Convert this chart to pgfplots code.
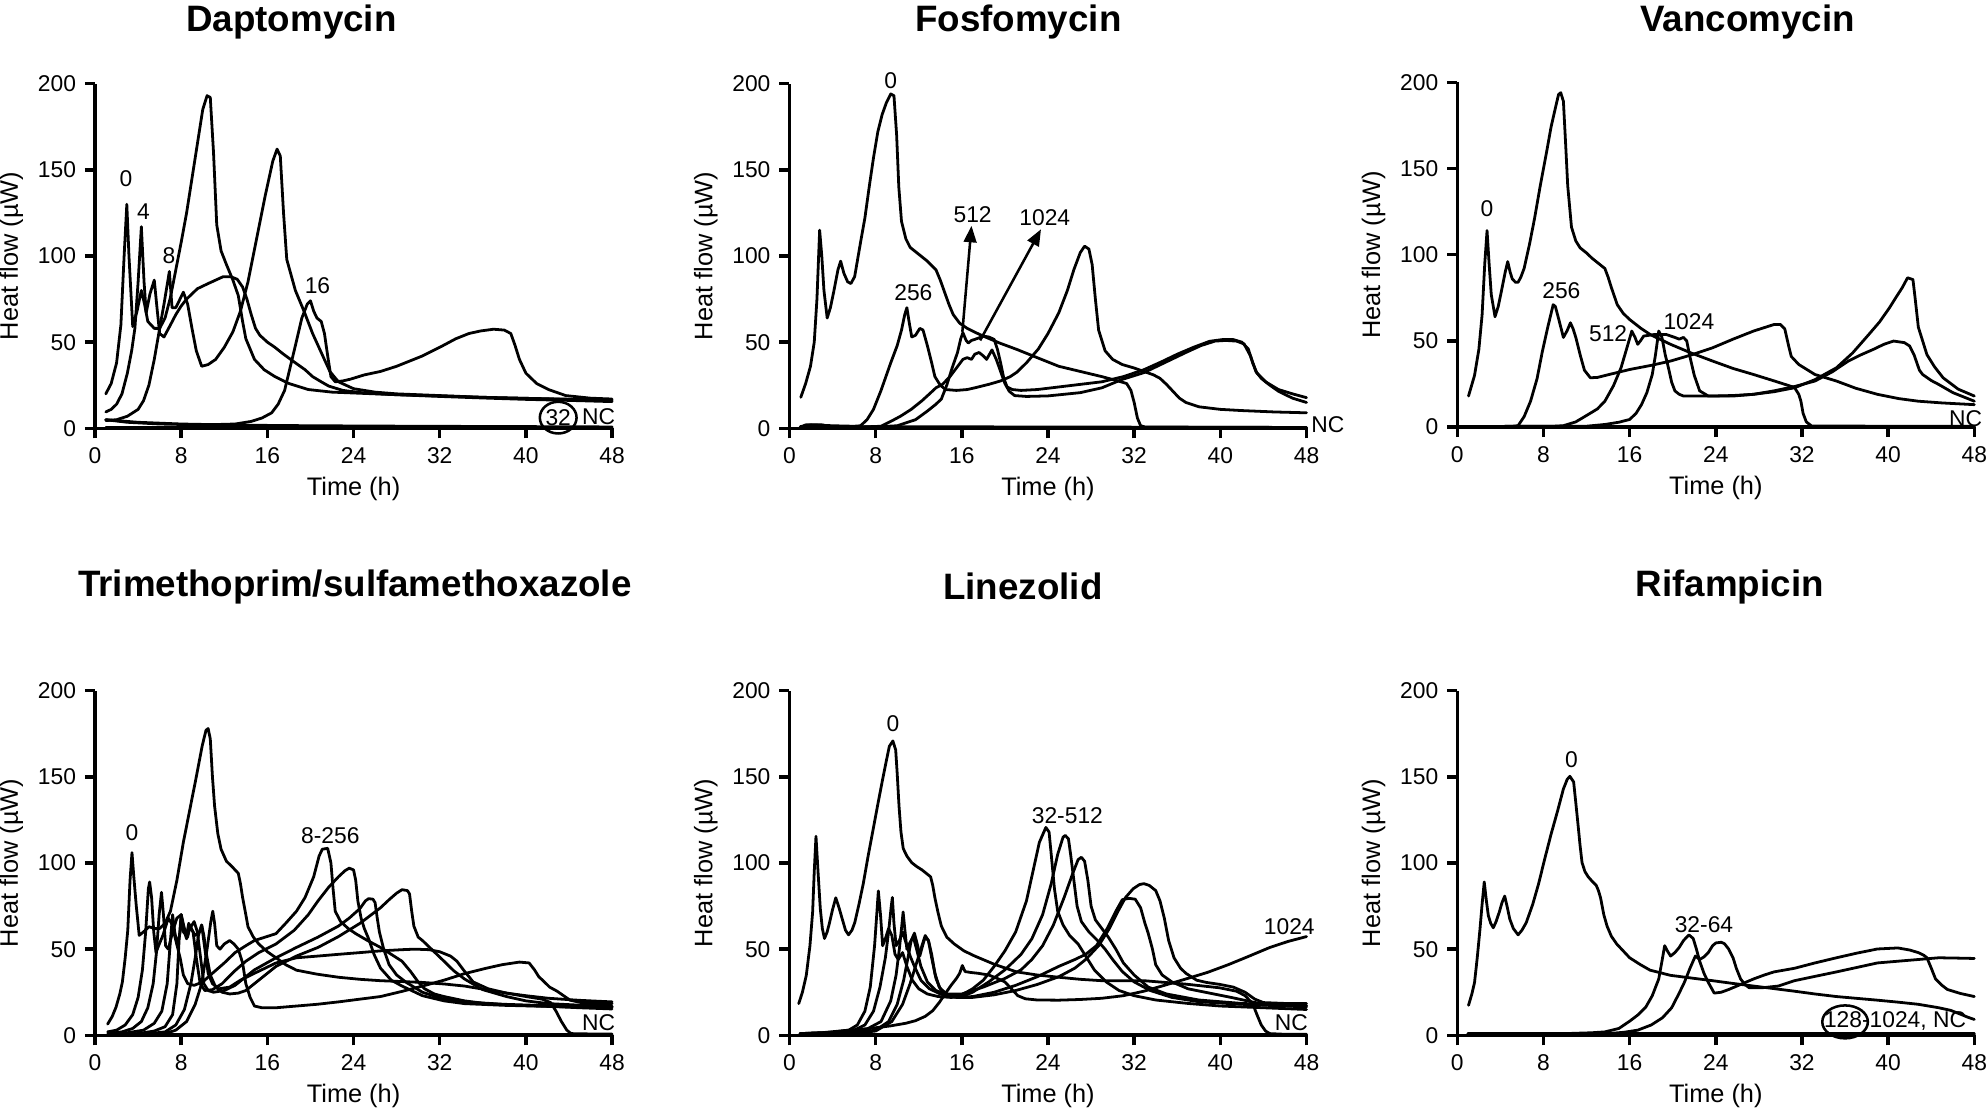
\documentclass[border=0pt]{standalone}
\usepackage{fontspec}
\setmainfont{Liberation Sans}
\usepackage{pgfplots}
\pgfplotsset{compat=1.18}
\usetikzlibrary{arrows.meta,shapes.geometric}
\tikzset{ann/.style={font=\fontsize{9}{10}\selectfont, inner sep=0pt}}
\pgfplotsset{
  panel/.style={
    scale only axis, width=204pt, height=136pt,
    anchor=south west,
    xmin=0, xmax=48, ymin=0, ymax=200,
    axis x line=bottom, axis y line=left,
    axis line style={-, line width=1.4pt, black},
    xtick={0,8,16,24,32,40,48}, ytick={0,50,100,150,200},
    tick align=outside, major tick length=4pt,
    tick style={black, line width=1.4pt},
    /pgf/number format/assume math mode=true,
    tick label style={font=\fontsize{9}{10}\selectfont},
    label style={font=\fontsize{9.5}{11}\selectfont},
    xlabel={Time (h)}, ylabel={Heat flow (µW)},
    every axis x label/.style={at={([yshift=-24pt]axis description cs:0.5,0)}, anchor=center},
    every axis y label/.style={at={([xshift=-33pt]axis description cs:0,0.5)}, anchor=center, rotate=90},
    clip=false,
    cycle list={{black,solid}},
    every axis plot post/.append style={black, solid, line width=1.1pt, line join=round, line cap=round, mark=none},
  },
}
\begin{document}
\begin{tikzpicture}
\path[use as bounding box] (0,0) rectangle (784pt,440pt);

% ---------------- Daptomycin
\begin{axis}[panel, at={(37.5pt,271pt)}]
\addplot coordinates {(1.0,20) (1.5,26) (2.0,38) (2.4,60) (2.7,100) (2.95,130) (3.15,100) (3.5,59) (3.9,68) (4.3,80) (4.6,72) (4.9,62) (5.5,58) (6.0,58) (6.5,64) (7.0,76) (7.5,92) (8.0,108) (8.5,125) (9.0,145) (9.5,165) (10.0,185) (10.4,193) (10.7,192) (11.0,160) (11.3,118) (11.7,103) (12.2,95) (12.8,86) (13.3,77) (13.7,62) (14.0,52) (14.8,40) (15.7,34) (16.7,30) (18,26) (19.8,22.5) (22,21) (24,20.5) (28,19.5) (32,18.8) (36,18) (40,17.4) (44,16.9) (48,16.5)};
\addplot coordinates {(1.0,9.5) (1.5,11) (2.0,14) (2.5,20) (3.0,32) (3.4,45) (3.7,58) (4.0,85) (4.3,117) (4.55,85) (4.75,67) (5.1,78) (5.5,86) (5.75,70) (6.0,55) (6.4,53) (7.0,60) (7.5,66) (8.0,71) (8.5,75) (9.0,78) (9.5,81) (10.0,82.5) (10.5,84) (11.2,86) (11.9,88) (12.6,88) (13.2,86.5) (13.7,82) (14.1,75) (14.5,66) (14.9,58) (15.3,54) (16.0,50) (16.7,47) (17.5,43) (18.6,38) (19.5,34) (20.2,30) (21.0,27) (21.7,24.5) (23,22) (25,20.5) (28,19.5) (32,18.5) (36,17.6) (40,16.8) (44,16.2) (48,15.5)};
\addplot coordinates {(1.0,4.5) (2,5) (3,7) (4,11) (4.5,16) (5.0,25) (5.5,40) (6.0,58) (6.4,72) (6.9,91) (7.15,70) (7.5,70) (8.2,79) (8.6,72) (9.0,58) (9.4,45) (9.9,36) (10.5,37) (11.2,40) (12.0,47) (12.8,56) (13.5,68) (14.2,85) (15.0,110) (15.8,135) (16.5,155) (16.9,162) (17.2,158) (17.5,125) (17.8,98) (18.6,80) (19.4,68) (20.2,55) (21.0,44) (21.8,33) (22.6,27) (24,23) (26,21) (28,20) (32,19) (36,18) (40,17.4) (44,16.8) (48,16.3)};
\addplot coordinates {(1.0,5) (3,3.5) (6,2.5) (10,2) (13,2.5) (14.5,4) (15.5,6) (16.4,9) (17.0,14) (17.6,22) (18.1,35) (18.6,48) (19.2,64) (19.7,72) (20.0,74) (20.3,68) (20.6,64) (21.0,62) (21.3,55) (21.6,42) (21.9,30) (22.3,27) (23.0,27.5) (23.7,28.5) (25,31) (26.5,33) (28,36) (30.4,42) (32.3,48) (33.5,52) (34.7,55) (35.8,56.5) (37.0,57.5) (38.0,57) (38.6,55) (39.0,48) (39.4,40) (40.0,32) (41.0,26) (42.1,22.5) (43.7,19) (46,17.5) (48,17)};
\addplot coordinates {(1.0,5) (4,3.5) (8,2.5) (14,1.8) (20,1.5) (30,1.2) (40,1) (48,0.8)};
\addplot coordinates {(1.0,0.4) (48,0.4)};
\node[ann] at (axis cs:2.86,145) {0};
\node[ann] at (axis cs:4.5,125.5) {4};
\node[ann] at (axis cs:6.86,100) {8};
\node[ann] at (axis cs:20.65,83) {16};
\node[ann] at (axis cs:43,6.2) {32};
\node[draw, ellipse, line width=1pt, minimum width=14.5pt, minimum height=12.5pt, inner sep=0pt] at (axis cs:43,6.2) {};
\node[ann] at (axis cs:46.75,6.8) {NC};
\end{axis}

% ---------------- Fosfomycin
\begin{axis}[panel, at={(311.5pt,271pt)}]
\addplot coordinates {(1.05,18) (1.5,26) (1.95,36) (2.3,50) (2.55,75) (2.8,115) (3.0,100) (3.2,80) (3.5,64) (3.8,70) (4.1,79) (4.5,92) (4.75,97) (5.05,90) (5.4,85) (5.7,84) (6.05,88) (6.6,108) (7.0,122) (7.4,140) (7.8,157) (8.2,172) (8.6,182) (9.0,189) (9.4,194) (9.7,193) (9.95,170) (10.15,140) (10.4,120) (10.8,110) (11.2,105) (12.0,101) (12.8,97) (13.6,92) (14.0,86) (14.4,79) (14.8,72) (15.2,66) (15.8,61) (16.5,58) (17.3,55.5) (18.0,53.5) (19.5,49.5) (21.1,45.8) (23,41) (25,36) (27,33) (29,30) (30.5,27.5) (31.3,26) (31.7,22) (32.0,15) (32.3,6) (32.6,1.5) (33,0.8) (40,0.6) (48,0.5)};
\addplot coordinates {(1,1) (2,2) (4,1.5) (6,1.2) (6.6,1.5) (7.2,5) (7.8,11) (8.5,22) (9.4,38) (10.0,48) (10.4,57) (10.7,66) (10.9,70) (11.1,62) (11.35,53) (11.7,54) (12.1,58) (12.4,57) (12.8,48) (13.2,38) (13.5,30) (14.0,25) (14.5,22.5) (15.5,22) (16.5,22.5) (17.2,23.5) (18.5,25.5) (19.6,27.5) (20.5,30) (21.1,32.5) (22.0,38) (23.1,46) (24.0,55) (25.0,67) (25.8,80) (26.4,92) (27.0,102) (27.4,105.7) (27.8,104) (28.1,95) (28.4,75) (28.7,57) (29.3,45) (30.0,40) (30.9,37) (32.0,35) (32.9,33) (33.8,31) (34.4,29) (35.0,25.5) (35.6,21.5) (36.2,17.5) (36.8,15) (38,12.5) (40,11) (42,10.3) (45,9.5) (48,9)};
\addplot coordinates {(1,0.5) (8,0.8) (10,1.5) (11.7,5) (12.8,10) (13.6,14) (14.1,17) (14.6,25) (15.1,35) (15.6,44) (15.9,52) (16.1,55.5) (16.4,51) (16.6,49.5) (16.9,51) (17.2,51.6) (17.6,52.5) (18.0,53.5) (18.5,53) (19.0,51.6) (19.3,46) (19.6,38) (19.9,29) (20.2,24) (20.7,22.5) (21.5,22) (23,22.5) (25,24) (27,25.5) (29,27) (31,30) (32.9,34) (34.5,38.5) (36,43) (37.5,47) (39,50.5) (40.2,51.5) (41.2,51.5) (42.0,50) (42.6,46) (43.0,38) (43.4,32) (44.2,27) (45.4,22.5) (46.7,20) (48,17.8)};
\addplot coordinates {(1,0.5) (6,0.6) (8.5,1.2) (9.4,4) (10.3,7) (11.3,11) (12.3,16) (13.0,20) (13.6,23.5) (14.2,25.5) (14.9,30) (15.5,35) (16.1,40) (16.5,41) (16.9,40) (17.2,43) (17.6,44) (18.0,42) (18.3,40) (18.8,45.5) (19.2,40) (19.6,33) (20.0,26) (20.4,21.5) (20.9,19) (22,18.5) (24,18.8) (27,20.7) (29,23.5) (30.9,28.4) (32.9,32.3) (34.8,38) (36.8,44) (38.2,48) (39.5,50.6) (40.5,51) (41.5,50.6) (42.2,49) (42.8,42) (43.3,33) (43.8,29) (44.6,25) (45.4,21.5) (46.7,17.5) (48,15)};
\addplot coordinates {(1,0.5) (1.5,2) (3,2) (4,1) (48,0.5)};
\draw[line width=1pt, -{Triangle[length=6.5pt,width=5pt]}] (axis cs:16.05,56) -- (axis cs:16.9,117.5);
\draw[line width=1pt, -{Triangle[length=6.5pt,width=5pt]}] (axis cs:17.7,51) -- (axis cs:23.35,115.5);
\node[ann] at (axis cs:9.4,202) {0};
\node[ann] at (axis cs:11.5,78.6) {256};
\node[ann] at (axis cs:17.0,124) {512};
\node[ann] at (axis cs:23.7,122) {1024};
\node[ann, anchor=west] at (axis cs:48.4,2.3) {NC};
\end{axis}

% ---------------- Vancomycin
\begin{axis}[panel, at={(575pt,271.5pt)}]
\addplot coordinates {(1.04,18) (1.6,30) (2.0,45) (2.3,65) (2.55,95) (2.76,114) (2.95,95) (3.15,77) (3.5,64) (3.8,70) (4.1,79) (4.45,90) (4.68,96) (4.9,90) (5.1,86) (5.4,84) (5.64,84) (5.9,87) (6.2,92) (6.7,106) (7.17,121) (7.7,140) (8.3,160) (8.7,174) (9.1,185) (9.4,193) (9.6,194) (9.85,189) (10.05,165) (10.25,140) (10.6,116) (11.0,108) (11.4,104) (12.0,101) (12.5,98) (13.1,95) (13.7,92) (14.0,87) (14.3,81) (14.85,71) (15.4,66) (16.0,62.4) (17.0,57.5) (17.9,53.7) (19.8,48) (21.7,43) (23.7,38.3) (25.6,34) (27.5,30.5) (29.4,26.8) (31.3,23) (31.7,19) (31.9,15) (32.1,8) (32.4,3) (32.9,0.6) (40,0.5) (48,0.5)};
\addplot coordinates {(1,0.3) (5,0.4) (5.64,0.8) (6.2,6) (6.8,15) (7.4,28) (7.9,44) (8.4,58) (8.9,71) (9.1,70) (9.4,63) (9.85,52) (10.2,56) (10.5,60.5) (10.75,57) (11.0,52) (11.4,42) (11.8,33) (12.35,28.6) (13,28.8) (14.1,30.5) (16.0,33.4) (18,35.8) (19.8,38.3) (21.8,42) (23.7,46) (25.6,51) (27.5,55.7) (29.4,59.5) (30.0,59.5) (30.4,57) (30.8,46) (31.0,41) (31.7,36.3) (33.2,30.5) (35.2,26.7) (37,22.5) (39,19) (41,16.5) (42.8,15) (45,14) (48,13)};
\addplot coordinates {(1,0.3) (9,0.5) (9.85,0.8) (11,3) (12.15,7.3) (13.0,10.5) (13.7,15) (14.5,24) (15.2,34.4) (15.7,45) (16.2,55.7) (16.5,52) (16.75,48) (17.0,50) (17.3,52.8) (18.3,53.7) (19.4,53.7) (20.2,52) (20.6,51) (21.0,52) (21.3,50) (21.55,42) (22.0,30) (22.5,21) (23.3,18) (25.6,18) (27.5,19) (29.4,21) (31.3,23.5) (33.2,26.7) (34.8,32) (36.3,38.3) (37.5,42) (38.6,45) (39.6,48) (40.5,49.9) (41.5,49) (42.0,47) (42.4,42) (42.9,33) (43.2,30.5) (44.0,27) (44.7,24.7) (46,20) (48,15)};
\addplot coordinates {(1,0.3) (12,0.5) (13.7,1.5) (15,2.8) (16,4.4) (16.6,8) (17.1,13) (17.6,20) (18.1,30.5) (18.4,42) (18.7,55.7) (19.0,52) (19.3,42) (19.6,34.4) (19.9,26) (20.2,21) (20.6,19) (21,18) (23.7,18) (25.6,18.3) (27.5,19) (29.4,20.5) (31.3,22.8) (33.2,27.5) (35.2,34.4) (36.7,43) (38.2,53.7) (39.2,61) (40.1,69) (40.7,75) (41.3,80.8) (41.8,86.6) (42.3,85.6) (42.5,75) (42.8,58) (43.2,50) (43.6,42) (44.3,35) (45.1,28.6) (46.5,22) (48,18)};
\addplot coordinates {(1,0.3) (48,0.3)};
\node[ann] at (axis cs:2.76,127) {0};
\node[ann] at (axis cs:9.66,79.4) {256};
\node[ann] at (axis cs:14.0,54.3) {512};
\node[ann] at (axis cs:21.5,61.4) {1024};
\node[ann] at (axis cs:47.2,5) {NC};
\end{axis}

% ---------------- Trimethoprim/sulfamethoxazole
\begin{axis}[panel, at={(37.5pt,31.5pt)}]
\addplot coordinates {(1.17,6.5) (1.6,11) (1.95,16.4) (2.3,24) (2.54,31) (2.8,45) (3.04,61) (3.25,90) (3.43,106) (3.6,92) (3.82,75.7) (4.1,58) (4.5,60) (5.0,63) (5.5,62) (6.0,62) (6.5,65) (7.0,72) (7.6,90) (8.2,112) (8.8,131) (9.37,149) (9.95,168) (10.3,177) (10.5,178) (10.7,172) (10.9,150) (11.1,133) (11.4,117) (11.7,108) (12.2,101) (12.7,98) (13.3,94) (13.5,88) (13.7,80) (14.0,70) (14.2,63) (14.7,57) (15.2,53) (16.0,48.5) (16.8,45) (17.7,41) (18.7,37.8) (20.6,35.5) (22.6,33.7) (24.6,32.5) (26.5,31.7) (28.5,31.2) (30.4,30.7) (32.4,29.8) (34.3,28.6) (36.3,26.5) (38.2,24.5) (40.1,22.4) (41.5,21) (42.3,19) (42.8,14) (43.3,8) (43.8,3) (44.2,1) (46,0.8) (48,0.8)};
\addplot coordinates {(1.17,2) (2,3) (2.8,6) (3.5,12) (4.0,22) (4.4,38) (4.7,60) (4.95,85) (5.07,89) (5.25,80) (5.45,60) (5.66,48) (5.9,52) (6.3,58) (6.8,68) (7.1,65) (7.5,55) (7.9,45) (8.2,35) (8.6,30) (9.2,29) (10.0,31) (10.9,36) (12,42) (13,48) (14,52) (14.8,55) (15.8,57) (16.8,59) (17.7,65) (18.7,72) (19.5,80) (20.3,92) (20.8,104) (21.1,108) (21.6,108.5) (21.9,100) (22.1,85) (22.3,72) (22.8,66) (23.5,62) (24.2,59) (25.3,55) (26.5,51) (27.5,47) (28.5,43) (29.3,37) (30.0,31) (30.6,27) (31.5,24) (32.4,22.5) (34.3,20) (36.3,18.4) (39,17.5) (42.1,16.8) (45,16) (48,15.3)};
\addplot coordinates {(1.2,1) (2.5,2) (3.5,4) (4.3,8) (4.9,16) (5.4,30) (5.7,48) (5.95,70) (6.17,83) (6.35,70) (6.55,52) (6.8,50) (7.2,60) (7.6,68) (8.0,70) (8.3,62) (8.6,57) (8.8,64) (9.1,60) (9.4,45) (9.76,30) (10.2,26) (10.9,26.5) (11.8,30) (12.9,37) (14,43) (15.2,48) (16.8,53) (18.5,61) (19.8,70) (20.7,78) (21.7,86) (22.6,92) (23.2,95.5) (23.6,97) (24.0,96) (24.2,90) (24.4,78) (24.7,68) (25.0,62) (25.4,56) (25.9,47) (26.5,39) (27.5,32) (28.5,28.6) (30.4,23) (32.4,20) (34.3,18.4) (38,17.4) (42,16.8) (48,16.2)};
\addplot coordinates {(1.2,0.8) (3,1.5) (4.5,3) (5.5,7) (6.2,14) (6.7,30) (7.0,55) (7.2,70) (7.4,60) (7.65,52) (7.9,60) (8.0,70) (8.2,62) (8.5,56) (8.8,62) (9.2,66) (9.5,60) (9.8,45) (10.1,30) (10.5,26) (11.0,25) (12,26) (13,29) (14,34) (14.8,38) (16.8,45) (18.7,51) (20.7,57) (22.6,63.4) (23.6,68) (24.6,73.6) (25.1,78) (25.4,79.3) (25.8,79) (26.0,77) (26.2,68) (26.4,60) (26.8,50) (27.3,41) (28.0,35) (28.9,30.7) (30.4,25) (32.4,21) (34.3,19.4) (38,18) (42,17.2) (48,16.8)};
\addplot coordinates {(1.2,0.5) (4,1) (5.5,2.5) (6.5,5) (7.2,12) (7.6,30) (7.8,55) (8.0,70) (8.2,60) (8.5,58) (8.7,65) (8.9,62) (9.3,58) (9.7,60) (9.9,64) (10.1,58) (10.4,45) (10.7,35) (11.2,28) (11.8,25) (12.5,24) (13.3,24.5) (14.0,26) (15.0,31) (16.0,36) (16.8,40) (18.7,46) (20.7,51) (22.6,57.3) (24.6,65) (26.5,74) (27.3,78.7) (28.0,82.5) (28.5,84.5) (29.0,84) (29.2,82) (29.4,72) (29.6,63.4) (30.0,57) (30.4,55) (31.4,49) (32.4,43) (33.3,37.5) (34.3,32.7) (36,26.5) (38.2,22.5) (40,20) (42.1,18.4) (45,17.5) (48,16.8)};
\addplot coordinates {(1.2,0.5) (5,1) (6.5,2) (7.5,6) (8.3,15) (8.9,30) (9.3,45) (9.6,58) (9.9,64) (10.2,50) (10.5,36) (10.9,30) (11.5,27) (12.5,28) (13.5,32) (14.8,36) (16.8,42) (18.7,45) (20.7,46) (22.6,47) (24.6,48) (26.5,49) (28.5,49.7) (29.7,50) (31,49.7) (32,48.5) (33,46) (33.6,43) (34.2,38) (35.1,31) (36.5,27) (38.2,24.5) (40,23) (42.1,21.5) (45,20.3) (48,19.4)};
\addplot coordinates {(1.2,0.3) (5,0.6) (6.5,1) (7.5,3) (8.5,8) (9.3,18) (9.9,30) (10.4,50) (10.75,66) (10.93,72) (11.1,65) (11.3,52) (11.6,50) (12.0,53) (12.5,55) (12.9,53) (13.3,50) (13.7,42) (14.0,30) (14.4,22) (14.8,17) (15.5,16) (16.8,16) (18.7,17) (20.6,18) (22.6,19.4) (24.6,21) (26.5,22.5) (28.5,25.5) (30.4,28.6) (32.4,32) (34.3,35.8) (36.3,38.9) (37.8,41) (39.4,42.5) (40.3,42) (40.8,38) (41.2,34) (41.6,31.7) (42.2,28) (42.9,25.6) (44.1,20.4) (45.5,18.5) (48,18.4)};
\addplot coordinates {(1.2,0.3) (48,0.3)};
\node[ann] at (axis cs:3.43,117.6) {0};
\node[ann] at (axis cs:21.85,116) {8-256};
\node[ann] at (axis cs:46.75,7.2) {NC};
\end{axis}

% ---------------- Linezolid
\begin{axis}[panel, at={(311.5pt,31.5pt)}]
\addplot coordinates {(0.86,18.4) (1.2,25) (1.56,34.8) (1.9,52) (2.15,71.6) (2.3,95) (2.46,115.5) (2.65,95) (2.86,73.6) (3.05,62) (3.25,56.2) (3.5,60) (3.72,65.4) (4.0,73) (4.3,79.8) (4.6,74) (4.9,67.5) (5.2,61) (5.48,58.3) (5.8,61) (6.06,65.4) (6.45,76) (6.85,88) (7.3,104) (7.8,120.6) (8.2,134) (8.6,147) (8.95,158) (9.27,167.7) (9.6,170.8) (9.86,165.6) (10.0,152) (10.17,133) (10.35,118) (10.56,108.4) (10.9,104) (11.35,100.2) (11.8,98) (12.3,96) (12.7,94) (13.1,92) (13.3,87) (13.5,79.8) (13.8,71) (14.1,63.4) (14.6,57) (15.3,53) (16.2,49) (17.2,46) (19.1,41) (21.1,36.8) (23,35) (25.0,33.7) (27,32.5) (29.0,31.7) (32.9,31.7) (36.8,29.7) (39.9,27.6) (41.5,25.6) (42.3,23) (43.0,18.4) (43.4,12) (43.8,6) (44.2,2.5) (44.6,1) (46,0.6) (48,0.6)};
\addplot coordinates {(1,1) (3,1.5) (5.5,3) (7.5,4) (9.4,5.5) (10.8,7) (11.7,8.5) (12.6,11) (13.3,14.3) (13.9,19) (14.5,24.5) (15.0,29) (15.5,33) (15.8,36) (16.05,40.5) (16.3,37) (16.8,36.5) (17.5,36) (18.5,35) (19.3,33) (20.0,31) (20.6,27) (21.2,23) (21.9,21.2) (23,20.5) (25,20.4) (27,20.8) (29,21.5) (31,23) (32.9,25.6) (34.8,29) (36.8,32.7) (38.8,36.5) (40.7,40.9) (42.5,45.5) (44.6,51) (46.3,54.5) (48,57.3)};
\addplot coordinates {(1,1) (4,1.8) (5.5,3) (6.3,6) (7.0,14) (7.5,28) (7.9,52) (8.1,70) (8.25,83.8) (8.45,70) (8.65,52) (8.9,56) (9.2,62) (9.5,58) (9.8,47) (10.1,44) (10.5,48) (10.9,40) (11.4,32) (12.0,27) (12.8,24) (13.8,22.5) (15,22) (16,23.5) (17,27) (18,32) (19,40) (20,49) (21,60) (22,78) (22.6,95) (23.2,112) (23.8,120.6) (24.1,118) (24.3,105) (24.6,85) (24.9,72) (25.4,64) (26.0,58) (26.8,53) (27.5,46) (28.3,38) (29.4,31) (30.6,26) (32,23) (34,20.5) (37,18.5) (40,17) (44,16) (48,15)};
\addplot coordinates {(1,1) (4,1.5) (6,3) (7,6) (7.8,14) (8.4,28) (8.9,45) (9.2,60) (9.45,75) (9.55,80) (9.7,65) (9.9,52) (10.2,55) (10.5,60) (10.8,54) (11.2,46) (11.6,40) (12.2,32) (13,27) (14,24) (15,22) (16,22.5) (17,25) (18.5,31) (20,38) (21.5,47) (22.5,56) (23.5,70) (24.3,88) (24.9,105) (25.4,115) (25.6,116) (25.9,114) (26.1,105) (26.4,90) (26.7,75) (27.1,66) (27.8,60) (28.6,55) (29.3,50) (30.0,44) (30.9,37) (32,31) (33.5,26) (35.5,22) (38,19.5) (42,18) (48,16.5)};
\addplot coordinates {(1,1) (5,1.5) (7,3) (8.5,8) (9.4,20) (9.9,35) (10.2,50) (10.45,65) (10.55,71.6) (10.7,62) (10.9,50) (11.2,54) (11.5,57) (11.8,50) (12.2,40) (12.8,31) (13.6,26) (14.5,24) (16,24) (18,28) (20,33) (21.5,38) (22.5,44) (23.5,52) (24.5,64) (25.5,80) (26.3,94) (26.8,102) (27.1,103.3) (27.4,101) (27.7,90) (28.0,75) (28.4,67) (29.0,62) (29.6,57) (30.3,50) (31.0,42) (32,35) (33.3,28) (35,24) (38,20.5) (42,18.5) (48,17)};
\addplot coordinates {(1,1) (6,1.5) (8,3) (9.2,8) (10.0,18) (10.6,32) (11.0,45) (11.3,55) (11.6,59.3) (11.9,52) (12.1,46) (12.4,53) (12.6,57) (12.9,55) (13.2,45) (13.6,33) (14.0,27) (14.6,24) (15.5,22) (17,22.5) (19,25) (21,29) (23,34) (25,40) (26.5,44) (27.5,47) (28.5,52) (29.5,62) (30.3,72) (30.9,78.7) (31.5,79.5) (32.1,79) (32.6,74) (33.0,65) (33.3,59.3) (33.7,50) (34.0,41) (34.6,35) (35.5,31) (37,27) (39,24.5) (41,22) (42.5,20) (44,18) (46,17.5) (48,17.5)};
\addplot coordinates {(1,1) (6,1.2) (8,2.5) (9.5,8) (10.5,18) (11.2,30) (11.8,42) (12.3,52) (12.6,57.9) (12.9,55) (13.2,47) (13.5,36) (13.9,28) (14.5,24) (15.5,22) (17,22) (19,23.5) (21,26) (23,29.5) (25,34) (26.5,39) (27.5,44) (28.7,52) (29.7,62) (30.5,72) (31.2,80) (31.9,85) (32.5,87.5) (32.9,88) (33.4,87) (34.0,84) (34.4,78) (34.8,68) (35.2,55) (35.7,45) (36.3,39) (36.8,36) (37.8,32) (38.7,30.7) (40,29.5) (41.2,28) (42.3,25) (43.2,21) (44,19) (46,18.5) (48,18.5)};
\addplot coordinates {(1,0.3) (48,0.3)};
\node[ann] at (axis cs:9.6,180.6) {0};
\node[ann] at (axis cs:25.8,127.4) {32-512};
\node[ann] at (axis cs:46.4,63) {1024};
\node[ann] at (axis cs:46.6,7.6) {NC};
\end{axis}

% ---------------- Rifampicin
\begin{axis}[panel, at={(575pt,31.5pt)}]
\addplot coordinates {(1.04,17.4) (1.35,24) (1.6,30.7) (1.85,45) (2.1,61.3) (2.3,76) (2.5,89) (2.7,78) (2.88,69.5) (3.1,65) (3.34,62.4) (3.6,66) (3.9,71.6) (4.15,77) (4.4,80.8) (4.65,74) (4.87,67.5) (5.2,62) (5.64,58.3) (6.0,61) (6.4,65.4) (7.0,76) (7.55,88) (8.1,102) (8.7,116.6) (9.3,130) (9.85,143) (10.2,148.5) (10.45,150.3) (10.8,147) (11.0,135) (11.2,122.7) (11.4,110) (11.58,100.2) (11.85,95) (12.15,92) (12.5,89.5) (12.9,87) (13.1,84) (13.3,79.8) (13.6,70) (13.9,63.4) (14.3,57.5) (14.8,53) (15.4,49) (16,45) (17,41) (17.9,37.8) (19.8,34.8) (21.8,33.2) (23.7,31.7) (25.6,30.1) (27.5,28.6) (29.4,27.1) (31.3,25.6) (33.2,24) (35.2,22.5) (37,21.5) (39.0,20.4) (41,19.2) (42.8,18) (44.7,16) (45.8,14.5) (46.7,12.3) (47.4,10.5) (48,9.2)};
\addplot coordinates {(1,1) (10,1) (12.5,1.5) (13.7,2) (15,4) (16,8.2) (16.8,12) (17.5,16.4) (18.1,23) (18.7,32.7) (19.0,43) (19.25,52) (19.5,49) (19.8,46) (20.2,48) (20.6,51) (21.0,55) (21.5,58.3) (21.9,56.2) (22.2,50) (22.5,43) (22.9,36) (23.3,30.7) (23.85,24.5) (24.5,25) (25.2,26.6) (26.3,29.5) (27.5,32.7) (28.5,35) (29.4,36.8) (31.3,38.9) (33.2,42) (35.2,45) (37.1,47.7) (39.0,50.1) (40.9,50.7) (42.0,49.5) (42.8,48) (43.3,46.5) (43.6,45) (44.0,39) (44.4,32.7) (45.0,29) (45.5,26.6) (46.7,24.3) (48,22.5)};
\addplot coordinates {(1,1) (14,1) (15.5,1.8) (16.75,3) (18,6) (19.05,10.2) (19.9,16) (20.6,24.5) (21.1,31) (21.6,38.9) (22.1,46) (22.5,44) (22.9,45.5) (23.3,48) (23.7,52) (24.0,53.6) (24.5,54) (24.8,53.2) (25.2,50) (25.6,45) (25.9,39) (26.3,32.7) (26.7,29.5) (27.1,27.6) (28.3,27.6) (29.8,28.6) (31.3,31.7) (33.2,34.2) (35.2,36.8) (37.1,39.4) (39.0,42) (40.9,43) (42.8,44) (44.7,45) (46.5,44.8) (48,44.6)};
\addplot coordinates {(1,1.2) (48,1.2)};
\addplot coordinates {(1,0.4) (48,0.4)};
\node[ann] at (axis cs:10.6,160) {0};
\node[ann] at (axis cs:22.9,64) {32-64};
\node[ann, anchor=west] at (axis cs:34.0,8.2) {128-1024, NC};
\node[draw, ellipse, line width=1pt, minimum width=18pt, minimum height=13pt, inner sep=0pt] at (axis cs:36.0,7.8) {};
\end{axis}

% ---------------- titles
\begin{scope}[every node/.style={font=\bfseries\fontsize{14.5}{17}\selectfont}]
\node at (115pt,431.5pt) {Daptomycin};
\node at (401.8pt,431.5pt) {Fosfomycin};
\node at (689.5pt,431.5pt) {Vancomycin};
\node at (140pt,208.5pt) {Trimethoprim/sulfamethoxazole};
\node at (403.6pt,208.5pt) {Linezolid};
\node at (682.5pt,208.5pt) {Rifampicin};
\end{scope}
\end{tikzpicture}
\end{document}
